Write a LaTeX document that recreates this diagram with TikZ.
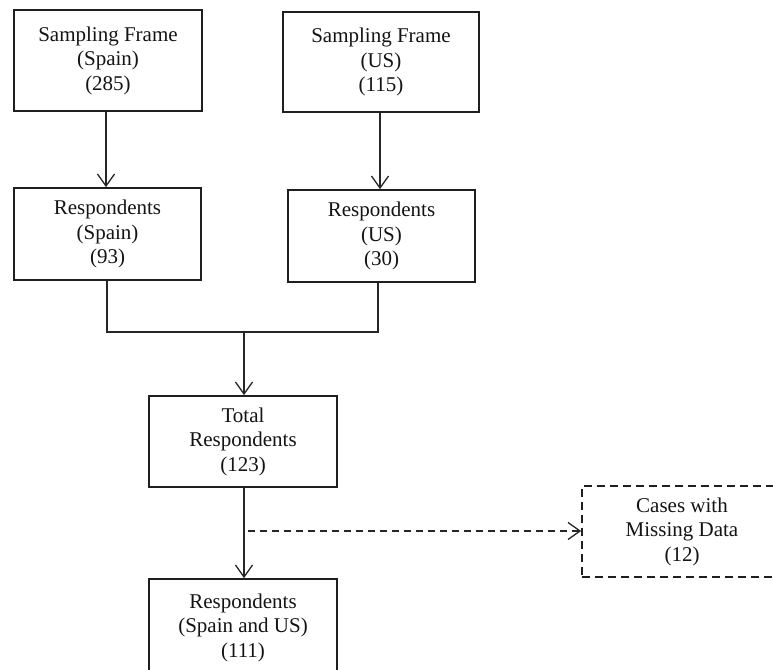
\documentclass[tikz,border=0pt]{standalone}
\usepackage{fontspec}
\setmainfont{Liberation Serif}
\usetikzlibrary{arrows.meta}
\tikzset{
  box/.style={draw=black!88, line width=1.7pt, align=center, text=black!92,
    inner sep=0pt, font=\fontsize{21}{24.5}\selectfont},
  dbox/.style={box, dash pattern=on 8pt off 5pt},
  conn/.style={draw=black!85, line width=1.3pt},
  arr/.style={conn, -{Straight Barb[length=12pt,width=17pt,line width=1.3pt]}},
  darr/.style={arr, dash pattern=on 7pt off 5pt}
}
\begin{document}
\begin{tikzpicture}[x=1pt,y=-1pt]
\clip (0,0) rectangle (773,669);
\fill[white] (0,0) rectangle (773,669);
\node[box, minimum width=188pt, minimum height=101pt] (sfs) at (108,60.5) {Sampling Frame\\(Spain)\\(285)};
\node[box, minimum width=196pt, minimum height=100pt] (sfu) at (381,62) {Sampling Frame\\(US)\\(115)};
\node[box, minimum width=187pt, minimum height=92pt] (rs) at (107.5,234) {Respondents\\(Spain)\\(93)};
\node[box, minimum width=187pt, minimum height=92pt] (ru) at (381.5,236) {Respondents\\(US)\\(30)};
\node[box, minimum width=188pt, minimum height=91pt] (tot) at (243,441.5) {Total\\Respondents\\(123)};
\node[dbox, minimum width=200pt, minimum height=91pt] (miss) at (682,531.5) {Cases with\\Missing Data\\(12)};
\node[box, minimum width=188pt, minimum height=97pt] (fin) at (243,627.5) {Respondents\\(Spain and US)\\(111)};
\coordinate (jl) at (107,332);
\coordinate (jr) at (378,332);
\coordinate (jm) at (244,332);
\coordinate (ds) at (248,531);
\draw[arr] (sfs.south -| 106,0) -- (106,0 |- rs.north);
\draw[arr] (sfu.south -| 380,0) -- (380,0 |- ru.north);
\draw[conn] (rs.south -| jl) -- (jl) -- (jr) -- (ru.south -| jr);
\draw[arr] (jm) -- (jm |- tot.north);
\draw[arr] (tot.south -| jm) -- (jm |- fin.north);
\draw[darr] (ds) -- (miss.west |- ds);
\end{tikzpicture}
\end{document}
